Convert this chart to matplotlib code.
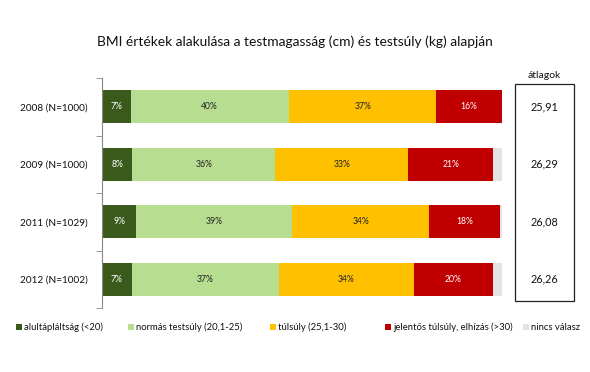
import matplotlib
matplotlib.use("Agg")
import matplotlib.pyplot as plt
from matplotlib.patches import Rectangle
from matplotlib.transforms import blended_transform_factory

plt.rcParams['font.family'] = ['Lato', 'DejaVu Sans']

categories = ["2008 (N=1000)", "2009 (N=1000)", "2011 (N=1029)", "2012 (N=1002)"]
series_names = ["alultápláltság (<20)", "normás testsúly (20,1-25)", "túlsúly (25,1-30)",
                "jelentős túlsúly, elhízás (>30)", "nincs válasz"]
alul = [7.2, 7.6, 8.6, 7.4]
normas = [39.5, 35.6, 39.0, 36.9]
tulsuly = [36.9, 33.4, 34.2, 33.6]
jelentos = [16.4, 21.2, 17.7, 19.8]
nincs = [0.0, 2.2, 0.5, 2.3]
labels = [["7%", "40%", "37%", "16%"],
          ["8%", "36%", "33%", "21%"],
          ["9%", "39%", "34%", "18%"],
          ["7%", "37%", "34%", "20%"]]
atlagok = ["25,91", "26,29", "26,08", "26,26"]

colors = ["#3A5A1C", "#B7DD90", "#FFC000", "#C00000", "#E3E3E3"]
text_colors = ["white", "#222222", "#222222", "white"]

W, H = 590, 372
fig = plt.figure(figsize=(W / 100, H / 100), dpi=100)
ax = fig.add_axes([102 / W, 1 - 308 / H, 400 / W, 230 / H])

series = [alul, normas, tulsuly, jelentos, nincs]
y = list(range(len(categories)))
left = [0.0] * len(categories)
for si, vals in enumerate(series):
    ax.barh(y, vals, left=left, height=0.58, color=colors[si], edgecolor='none')
    if si < 4:
        for i, (v, l) in enumerate(zip(vals, left)):
            ax.text(l + v / 2, i, labels[i][si], ha='center', va='center',
                    fontsize=6.2, color=text_colors[si])
    left = [a + b for a, b in zip(left, vals)]

ax.set_xlim(0, 100)
ax.set_ylim(3.5, -0.5)
ax.set_xticks([])
ax.set_yticks(y)
ax.set_yticklabels(categories, fontsize=7.2, color="#111111")
ax.tick_params(axis='y', which='major', length=0, pad=10)
ax.set_yticks([-0.5, 0.5, 1.5, 2.5, 3.5], minor=True)
ax.tick_params(axis='y', which='minor', length=4, color="#888888", direction='out')
for s in ['top', 'right', 'bottom']:
    ax.spines[s].set_visible(False)
ax.spines['left'].set_color("#888888")
ax.spines['left'].set_linewidth(0.8)

fig.text(295 / W, 1 - 42 / H,
         "BMI értékek alakulása a testmagasság (cm) és testsúly (kg) alapján",
         ha='center', va='center', fontsize=9.9, color="#111111")

# averages box
fig.add_artist(Rectangle((515 / W, 1 - 301 / H), 59 / W, 217 / H, transform=fig.transFigure,
                         fill=False, edgecolor="#222222", linewidth=0.9))
fig.text(544 / W, 1 - 76 / H, "átlagok", ha='center', va='center', fontsize=7.5, color="#111111")
tr = blended_transform_factory(fig.transFigure, ax.transData)
for i, a in enumerate(atlagok):
    fig.text(544 / W, i, a, transform=tr, ha='center', va='center', fontsize=7.8, color="#111111")

# legend
leg_x = [16, 128, 270, 385, 523]
leg_y = 327
sq = 6
for xpos, name, c in zip(leg_x, series_names, colors):
    fig.add_artist(Rectangle((xpos / W, 1 - (leg_y + sq / 2) / H), sq / W, sq / H,
                             transform=fig.transFigure, facecolor=c, edgecolor='none'))
    fig.text((xpos + sq + 2) / W, 1 - leg_y / H, name, ha='left', va='center',
             fontsize=6.8, color="#111111")

fig.savefig("out.png", dpi=100, facecolor='white')
